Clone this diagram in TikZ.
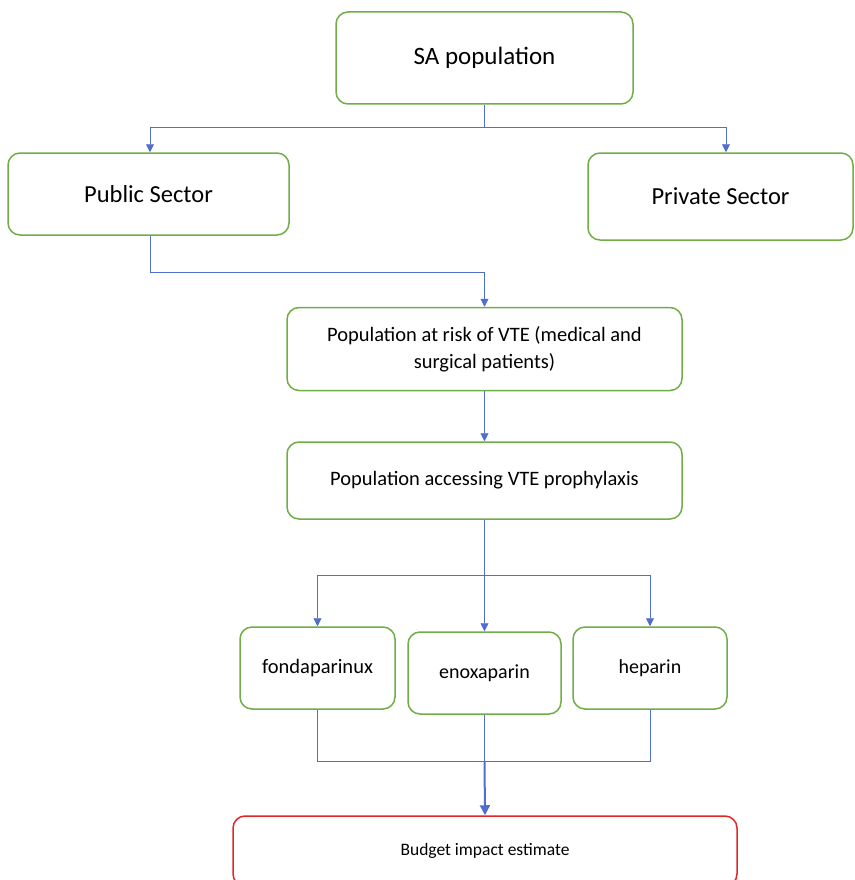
\documentclass[tikz,border=0pt]{standalone}
\usepackage{fontspec}
\setmainfont{Carlito}
\usetikzlibrary{arrows.meta}
\definecolor{boxgreen}{RGB}{112,173,71}
\definecolor{linkblue}{RGB}{80,110,205}
\definecolor{boxred}{RGB}{225,40,40}
\tikzset{
  box/.style={draw=boxgreen, line width=1.5pt, rounded corners=12pt, fill=white, align=center, inner sep=0pt},
  redbox/.style={box, draw=boxred},
  link/.style={draw=linkblue, line width=0.9pt},
  arr/.style={link, -{Triangle[width=8pt,length=8pt]}},
  bigarr/.style={draw=linkblue, line width=2pt, -{Triangle[width=10pt,length=10pt]}}
}
\begin{document}
\begin{tikzpicture}[x=1pt,y=-1pt]
\useasboundingbox (0,0) rectangle (854,880);
\node[box, minimum width=297pt, minimum height=92pt, font=\fontsize{25}{30}\selectfont] (sa) at (484.5,58) {SA population};
\node[box, minimum width=281pt, minimum height=82pt, font=\fontsize{24.5}{29}\selectfont] (pub) at (148.5,194) {Public Sector};
\node[box, minimum width=265pt, minimum height=87pt, font=\fontsize{24.5}{29}\selectfont] (priv) at (720.5,196.5) {Private Sector};
\node[box, minimum width=395pt, minimum height=83pt, font=\fontsize{20.5}{27}\selectfont] (risk) at (484.5,349) {Population at risk of VTE (medical and\\surgical patients)};
\node[box, minimum width=395pt, minimum height=77pt, font=\fontsize{20.5}{24}\selectfont] (acc) at (484.5,480.5) {Population accessing VTE prophylaxis};
\node[box, minimum width=155pt, minimum height=82pt, font=\fontsize{20.5}{24}\selectfont] (fon) at (317.5,668) {fondaparinux};
\node[box, minimum width=153pt, minimum height=82pt, font=\fontsize{20}{24}\selectfont] (eno) at (484.5,673) {enoxaparin};
\node[box, minimum width=154pt, minimum height=82pt, font=\fontsize{20}{24}\selectfont] (hep) at (650,668) {heparin};
\node[redbox, minimum width=504pt, minimum height=70pt, font=\fontsize{17.5}{20}\selectfont] (bud) at (485,851) {Budget impact estimate};
\coordinate (j1) at (484.5,127);
\coordinate (j2) at (484.5,575);
\coordinate (j3) at (484.5,761);
\draw[link] (sa.south) -- (j1);
\draw[arr] (j1) -| (pub.north -| 150,0);
\draw[arr] (j1) -| (priv.north -| 726,0);
\draw[arr] (pub.south -| 150,0) |- (484.5,272) -- (risk.north);
\draw[arr] (risk.south) -- (acc.north);
\draw[link] (acc.south) -- (j2);
\draw[arr] (j2) -| (fon.north);
\draw[arr] (j2) -- (eno.north);
\draw[arr] (j2) -| (hep.north);
\draw[link] (fon.south) |- (j3);
\draw[link] (hep.south) |- (j3);
\draw[link] (eno.south) -- (j3);
\draw[bigarr] (j3) -- (bud.north);
\end{tikzpicture}
\end{document}
